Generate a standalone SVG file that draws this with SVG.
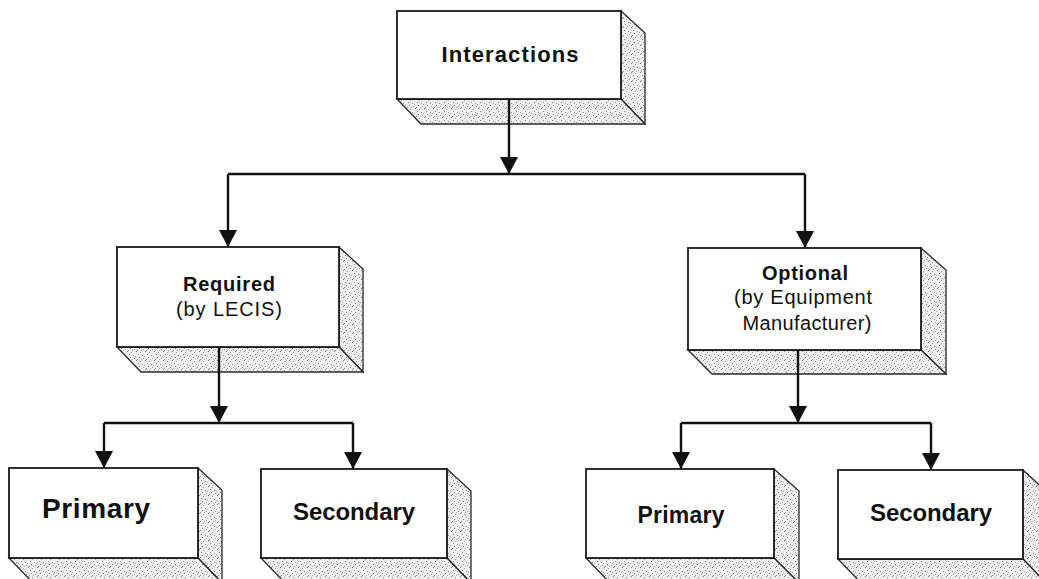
<svg xmlns="http://www.w3.org/2000/svg" width="1039" height="579" viewBox="0 0 1039 579">
  <defs>
    <!-- speckled shading for the extruded faces of each block -->
    <pattern id="stipple" width="9" height="9" patternUnits="userSpaceOnUse">
      <rect width="9" height="9" fill="#eeeeee"/>
      <rect x="1" y="0" width="1" height="1" fill="#7a7a7a"/>
      <rect x="5" y="1" width="1" height="1" fill="#a0a0a0"/>
      <rect x="3" y="3" width="1" height="1" fill="#888888"/>
      <rect x="7" y="4" width="1" height="1" fill="#949494"/>
      <rect x="0" y="5" width="1" height="1" fill="#a8a8a8"/>
      <rect x="4" y="6" width="1" height="1" fill="#7e7e7e"/>
      <rect x="8" y="7" width="1" height="1" fill="#9c9c9c"/>
      <rect x="2" y="8" width="1" height="1" fill="#8e8e8e"/>
      <rect x="6" y="8" width="1" height="1" fill="#b4b4b4"/>
    </pattern>
    <!-- solid arrowhead, drawn along the path direction -->
    <marker id="arrow" markerUnits="userSpaceOnUse" markerWidth="18" markerHeight="18"
            viewBox="0 0 18 18" refX="17" refY="9" orient="auto">
      <path d="M0,0 L17,9 L0,18 Z" fill="#111"/>
    </marker>
    <style>
      .front { fill: #ffffff; stroke: #1a1a1a; stroke-width: 1.8; }
      .face { fill: url(#stipple); stroke: #2a2a2a; stroke-width: 1.3; stroke-linejoin: miter; }
      .title { font-family: "Liberation Sans", Arial, sans-serif; font-weight: bold; fill: #111; text-anchor: middle; }
      .sub { font-family: "Liberation Sans", Arial, sans-serif; font-weight: normal; fill: #111; text-anchor: middle; }
      .wire { fill: none; stroke: #111; stroke-width: 2.4; }
      .wire-arrow { fill: none; stroke: #111; stroke-width: 2.4; marker-end: url(#arrow); }
    </style>
  </defs>

  <rect width="1039" height="579" fill="#ffffff"/>

  <!-- top block -->
  <g id="interactions">
    <polygon class="face" points="621,11 645,33 645,124 621,99"/>
    <polygon class="face" points="397,99 421,124 645,124 621,99"/>
    <rect class="front" x="397" y="11" width="224" height="88"/>
    <text class="title" x="510" y="62" font-size="22" textLength="137" lengthAdjust="spacing">Interactions</text>
  </g>

  <!-- second level -->
  <g id="required">
    <polygon class="face" points="339,247 363,269 363,372 339,347"/>
    <polygon class="face" points="117,347 141,372 363,372 339,347"/>
    <rect class="front" x="117" y="247" width="222" height="100"/>
    <text class="title" x="229" y="291" font-size="20" textLength="92" lengthAdjust="spacing">Required</text>
    <text class="sub" x="229" y="316" font-size="20" textLength="106" lengthAdjust="spacing">(by LECIS)</text>
  </g>

  <g id="optional">
    <polygon class="face" points="921,248 946,270 946,374 921,350"/>
    <polygon class="face" points="688,350 712,374 946,374 921,350"/>
    <rect class="front" x="688" y="248" width="233" height="102"/>
    <text class="title" x="805" y="280" font-size="20" textLength="86" lengthAdjust="spacing">Optional</text>
    <text class="sub" x="803" y="304" font-size="20" textLength="138" lengthAdjust="spacing">(by Equipment</text>
    <text class="sub" x="807" y="330" font-size="20" textLength="129" lengthAdjust="spacing">Manufacturer)</text>
  </g>

  <!-- third level -->
  <g id="primary-required">
    <polygon class="face" points="198,468 222,490 222,583 198,558"/>
    <polygon class="face" points="9,558 33,583 222,583 198,558"/>
    <rect class="front" x="9" y="468" width="189" height="90"/>
    <text class="title" x="96" y="518" font-size="28" textLength="108" lengthAdjust="spacing">Primary</text>
  </g>

  <g id="secondary-required">
    <polygon class="face" points="447,469 471,491 471,583 447,558"/>
    <polygon class="face" points="261,558 285,583 471,583 447,558"/>
    <rect class="front" x="261" y="469" width="186" height="89"/>
    <text class="title" x="354" y="520" font-size="24" textLength="122" lengthAdjust="spacing">Secondary</text>
  </g>

  <g id="primary-optional">
    <polygon class="face" points="774,469 799,491 799,583 774,558"/>
    <polygon class="face" points="586,558 610,583 799,583 774,558"/>
    <rect class="front" x="586" y="469" width="188" height="89"/>
    <text class="title" x="681" y="523" font-size="23" textLength="87" lengthAdjust="spacing">Primary</text>
  </g>

  <g id="secondary-optional">
    <polygon class="face" points="1023,470 1047,492 1047,584 1023,559"/>
    <polygon class="face" points="838,559 862,584 1047,584 1023,559"/>
    <rect class="front" x="838" y="470" width="185" height="89"/>
    <text class="title" x="931" y="521" font-size="24" textLength="122" lengthAdjust="spacing">Secondary</text>
  </g>

  <!-- connectors -->
  <g id="connectors">
    <path class="wire-arrow" d="M509,99 V174"/>
    <path class="wire" d="M228,174 H805"/>
    <path class="wire-arrow" d="M228,174 V247"/>
    <path class="wire-arrow" d="M805,174 V248"/>

    <path class="wire-arrow" d="M219,347 V423"/>
    <path class="wire" d="M104,423 H353"/>
    <path class="wire-arrow" d="M104,423 V468"/>
    <path class="wire-arrow" d="M353,423 V469"/>

    <path class="wire-arrow" d="M798,350 V423"/>
    <path class="wire" d="M681,423 H931"/>
    <path class="wire-arrow" d="M681,423 V469"/>
    <path class="wire-arrow" d="M931,423 V470"/>
  </g>
</svg>
